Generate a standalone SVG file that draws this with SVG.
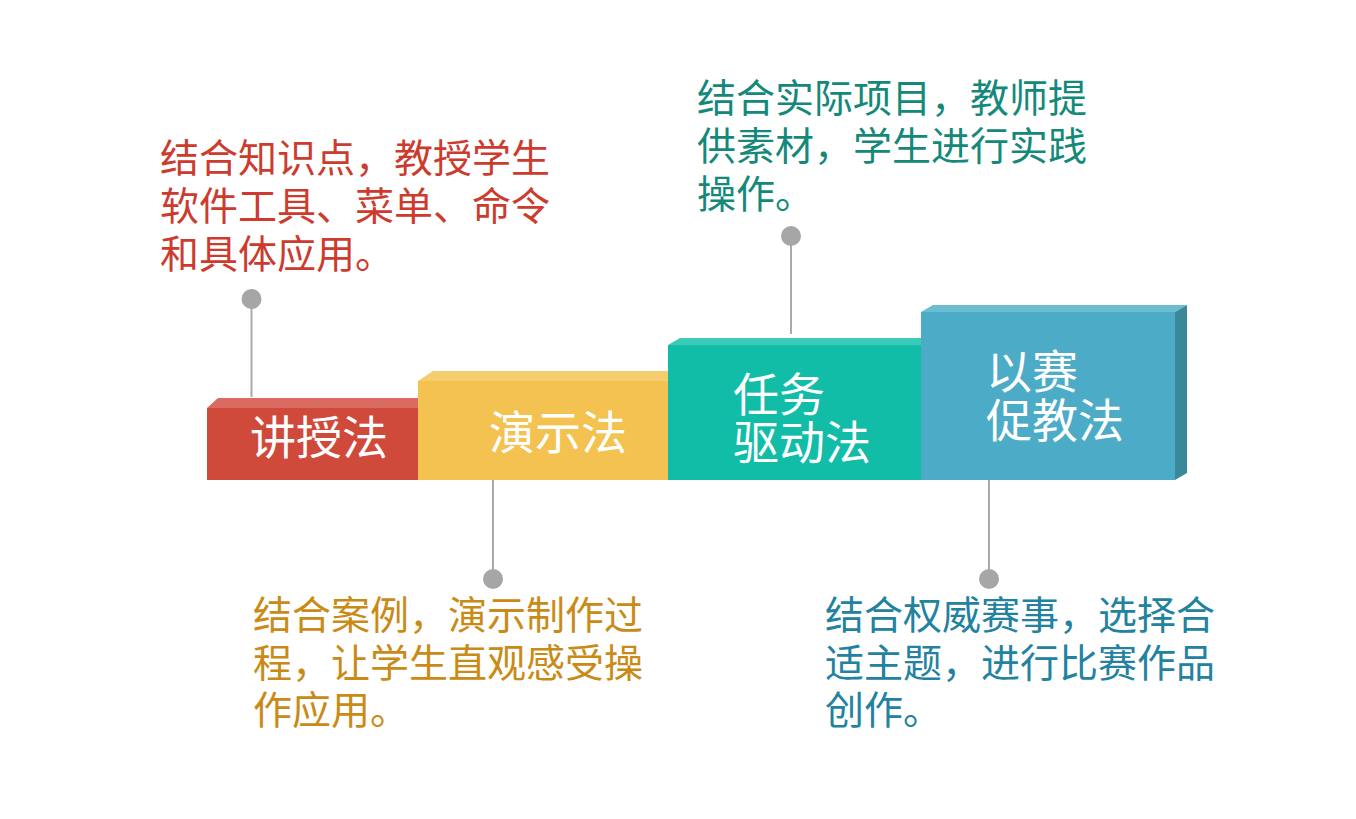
<svg xmlns="http://www.w3.org/2000/svg" width="1356" height="819" viewBox="0 0 1356 819">
<style>
.lbl{font-family:"Noto Sans CJK SC","Microsoft YaHei",sans-serif;font-size:46px;fill:#ffffff}
.desc{font-family:"Noto Sans CJK SC","Microsoft YaHei",sans-serif;font-size:39px}
.conn line{stroke:#aaaaaa;stroke-width:2}
.conn circle{fill:#a6a6a6}
</style>
<rect width="1356" height="819" fill="#ffffff"/>
<g id="connectors" class="conn">
<line x1="251.5" y1="299" x2="251.5" y2="397"/>
<circle cx="251.5" cy="299" r="10"/>
<line x1="493" y1="480" x2="493" y2="579"/>
<circle cx="493" cy="579" r="10"/>
<line x1="791" y1="236" x2="791" y2="334"/>
<circle cx="791" cy="236" r="10"/>
<line x1="989" y1="480" x2="989" y2="579"/>
<circle cx="989" cy="579" r="10"/>
</g>
<g id="node-jiangshou">
<polygon points="207,408 218,398 430,398 418,408" fill="#d96b60"/>
<rect x="207" y="408" width="212" height="72" fill="#d04a3b"/>
<text class="lbl" x="250" y="454">讲授法</text>
</g>
<g id="node-yanshi">
<polygon points="418,381 433,371 680,371 668,381" fill="#f4cd6e"/>
<rect x="418" y="381" width="251" height="99" fill="#f3c250"/>
<text class="lbl" x="489" y="449">演示法</text>
</g>
<g id="node-renwu">
<polygon points="668,345 680,338 933,338 921,345" fill="#3ccbb8"/>
<rect x="668" y="345" width="254" height="135" fill="#12bda8"/>
<text class="lbl" x="733" y="411">任务</text>
<text class="lbl" x="733" y="459">驱动法</text>
</g>
<g id="node-yisai">
<polygon points="921,312 933,305 1187,305 1175,312" fill="#6dbdd2"/>
<polygon points="1175,312 1187,305 1187,473 1175,480" fill="#3b889b"/>
<rect x="921" y="312" width="254" height="168" fill="#4cacc7"/>
<text class="lbl" x="986" y="388">以赛</text>
<text class="lbl" x="986" y="437">促教法</text>
</g>
<g id="desc-jiangshou" class="desc" fill="#cc3b2e">
<text x="160" y="172">结合知识点，教授学生</text>
<text x="160" y="220">软件工具、菜单、命令</text>
<text x="160" y="268">和具体应用。</text>
</g>
<g id="desc-renwu" class="desc" fill="#14897a">
<text x="697" y="112">结合实际项目，教师提</text>
<text x="697" y="160">供素材，学生进行实践</text>
<text x="697" y="208">操作。</text>
</g>
<g id="desc-yanshi" class="desc" fill="#c98b16">
<text x="253" y="629">结合案例，演示制作过</text>
<text x="253" y="677">程，让学生直观感受操</text>
<text x="253" y="724">作应用。</text>
</g>
<g id="desc-yisai" class="desc" fill="#2282a0">
<text x="825" y="629">结合权威赛事，选择合</text>
<text x="825" y="677">适主题，进行比赛作品</text>
<text x="825" y="724">创作。</text>
</g>
</svg>
